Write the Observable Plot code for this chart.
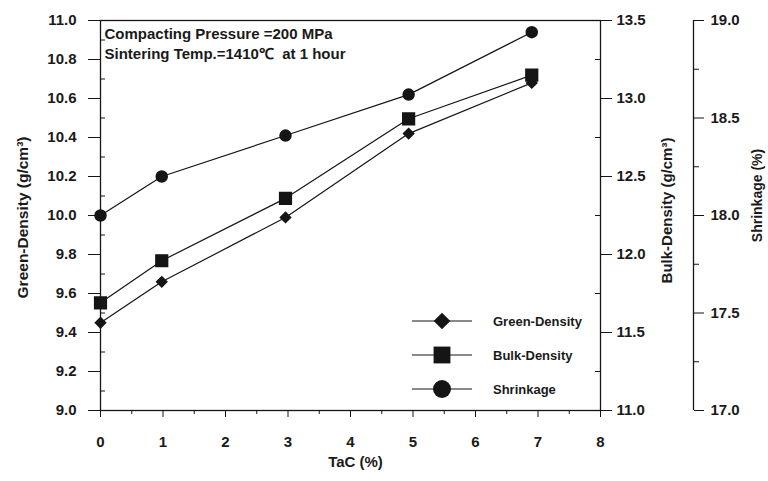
<!DOCTYPE html>
<html><head><meta charset="utf-8">
<script src="https://cdn.jsdelivr.net/npm/d3@7"></script>
<script src="https://cdn.jsdelivr.net/npm/@observablehq/plot@0.6"></script>
<style>
body{margin:0;background:#fff;}
#wrap{position:relative;width:768px;height:481px;font-family:"Liberation Sans",Arial,sans-serif;color:#1a1a1a;}
#legend{position:absolute;left:410px;top:304px;font-size:13px;font-weight:bold;}
#legend .row{display:flex;align-items:center;height:34px;}
#legend svg{display:block;}
#legend span{margin-left:19px;}
</style></head><body><div id="wrap"><div id="legend"></div></div>
<script>
// ---- data ----
const tac          = [0, 0.98, 2.96, 4.93, 6.9];
const greenDensity = [9.45, 9.66, 9.99, 10.42, 10.68];
const bulkDensity  = [11.69, 11.96, 12.36, 12.87, 13.15];
const shrinkage    = [18.0, 18.2, 18.41, 18.62, 18.94];
const seriesNames  = ["Green-Density", "Bulk-Density", "Shrinkage"];
const seriesSymbols = ["diamond2", "square", "circle"];

// ---- axis ticks ----
const xTicks      = [0, 1, 2, 3, 4, 5, 6, 7, 8];
const xMinor      = [0.5, 1.5, 2.5, 3.5, 4.5, 5.5, 6.5, 7.5];
const greenTicks  = [9.0, 9.2, 9.4, 9.6, 9.8, 10.0, 10.2, 10.4, 10.6, 10.8, 11.0];
const greenMinor  = [9.1, 9.3, 9.5, 9.7, 9.9, 10.1, 10.3, 10.5, 10.7, 10.9];
const bulkTicks   = [11.0, 11.5, 12.0, 12.5, 13.0, 13.5];
const bulkMinor   = [11.25, 11.75, 12.25, 12.75, 13.25];
const shrinkTicks = [17.0, 17.5, 18.0, 18.5, 19.0];
const shrinkMinor = [17.25, 17.75, 18.25, 18.75];

const annotation = "Compacting Pressure =200 MPa\nSintering Temp.=1410℃  at 1 hour";
const xLabel = "TaC (%)";
const yLabels = ["Green-Density (g/cm³)", "Bulk-Density (g/cm³)", "Shrinkage (%)"];

// map secondary axes onto the primary (green density) scale
const g0 = greenTicks[0], g1 = greenTicks[greenTicks.length - 1];
const b0 = bulkTicks[0], b1 = bulkTicks[bulkTicks.length - 1];
const s0 = shrinkTicks[0], s1 = shrinkTicks[shrinkTicks.length - 1];
const fromBulk = v => g0 + (v - b0) * (g1 - g0) / (b1 - b0);
const toBulk = v => b0 + (v - g0) * (b1 - b0) / (g1 - g0);
const fromShr = v => g0 + (v - s0) * (g1 - g0) / (s1 - s0);
const toShr = v => s0 + (v - g0) * (s1 - s0) / (g1 - g0);

const rows = [];
tac.forEach((t, i) => {
  rows.push({series: seriesNames[0], x: t, y: greenDensity[i]});
  rows.push({series: seriesNames[1], x: t, y: fromBulk(bulkDensity[i])});
  rows.push({series: seriesNames[2], x: t, y: fromShr(shrinkage[i])});
});
const bySeries = name => rows.filter(d => d.series === name);

const ink = "#151515";
const SHR_DX = 93;
const fmt = d => d.toFixed(1);
const txt = {fontSize: 15, fontWeight: "bold", fill: "#1a1a1a"};

const chart = Plot.plot({
  width: 768, height: 481,
  marginLeft: 100, marginRight: 168, marginTop: 20, marginBottom: 71,
  style: {fontFamily: '"Liberation Sans", Arial, sans-serif', background: "white"},
  x: {domain: [xTicks[0], xTicks[xTicks.length - 1]]},
  y: {domain: [g0, g1]},
  marks: [
    Plot.frame({stroke: ink, strokeWidth: 1.3}),
    // x axis
    Plot.axisX(xTicks, {tickSize: 7, tickPadding: 19, tickFormat: d => String(d), label: null, stroke: ink, ...txt}),
    Plot.axisX(xMinor, {tickSize: 4, tickFormat: () => "", label: null, stroke: ink}),
    // left axis (green density)
    Plot.axisY(greenTicks, {anchor: "left", tickSize: 12, tickPadding: 12, tickFormat: fmt, label: null, stroke: ink, ...txt}),
    Plot.axisY(greenMinor, {anchor: "left", tickSize: -5, tickFormat: () => "", label: null, stroke: ink}),
    // right axis (bulk density)
    Plot.axisY(bulkTicks.map(fromBulk), {anchor: "right", tickSize: 11, tickPadding: 5, tickFormat: d => fmt(toBulk(d)), label: null, stroke: ink, ...txt}),
    Plot.axisY(bulkMinor.map(fromBulk), {anchor: "right", tickSize: -6, tickFormat: () => "", label: null, stroke: ink}),
    // far right axis (shrinkage)
    Plot.ruleX([xTicks[xTicks.length - 1]], {y1: g0, y2: g1, dx: SHR_DX, stroke: ink, strokeWidth: 1.3}),
    Plot.axisY(shrinkTicks.map(fromShr), {anchor: "right", dx: SHR_DX, tickSize: 10, tickPadding: 7, tickFormat: d => fmt(toShr(d)), label: null, stroke: ink, ...txt}),
    Plot.axisY(shrinkMinor.map(fromShr), {anchor: "right", dx: SHR_DX, tickSize: 5, tickFormat: () => "", label: null, stroke: ink}),
    // axis titles
    Plot.text([xLabel], {frameAnchor: "bottom", dx: 5, dy: 56, text: d => d, ...txt}),
    Plot.text([yLabels[0]], {frameAnchor: "left", textAnchor: "middle", dx: -77, dy: 2, rotate: -90, text: d => d, ...txt, fontSize: 15.5}),
    Plot.text([yLabels[1]], {frameAnchor: "right", textAnchor: "middle", dx: 67, dy: -5, rotate: -90, text: d => d, ...txt}),
    Plot.text([yLabels[2]], {frameAnchor: "right", textAnchor: "middle", dx: 157, dy: -20, rotate: -90, text: d => d, ...txt, fontSize: 14}),
    // annotation
    Plot.text([annotation], {frameAnchor: "top-left", dx: 4, dy: 5, lineAnchor: "top", textAnchor: "start", lineHeight: 1.3, text: d => d, fontSize: 15, fontWeight: "bold", fill: "#1a1a1a"}),
    // series
    ...seriesNames.map(name => Plot.line(bySeries(name), {x: "x", y: "y", stroke: ink, strokeWidth: 1.2})),
    Plot.dot(bySeries(seriesNames[0]), {x: "x", y: "y", symbol: "diamond2", r: 4.6, fill: ink, stroke: ink}),
    Plot.dot(bySeries(seriesNames[1]), {x: "x", y: "y", symbol: "square", r: 6.6, fill: ink, stroke: ink}),
    Plot.dot(bySeries(seriesNames[2]), {x: "x", y: "y", symbol: "circle", r: 5.5, fill: ink, stroke: ink})
  ]
});
const wrap = document.getElementById("wrap");
wrap.insertBefore(chart, wrap.firstChild);

// legend (inside the plot area, lower right)
const legend = d3.select("#legend");
const legendSizes = [7.5, 9.5, 9];
const symMap = {diamond2: d3.symbolDiamond2, square: d3.symbolSquare, circle: d3.symbolCircle};
seriesNames.forEach((name, i) => {
  const row = legend.append("div").attr("class", "row");
  const svg = row.append("svg").attr("width", 64).attr("height", 28);
  svg.append("line").attr("x1", 2).attr("x2", 62).attr("y1", 14).attr("y2", 14).attr("stroke", ink).attr("stroke-width", 1.2);
  const r = legendSizes[i];
  svg.append("path").attr("transform", "translate(32,14)")
    .attr("d", d3.symbol(symMap[seriesSymbols[i]], Math.PI * r * r)()).attr("fill", ink);
  row.append("span").text(name);
});
</script>
</body></html>
